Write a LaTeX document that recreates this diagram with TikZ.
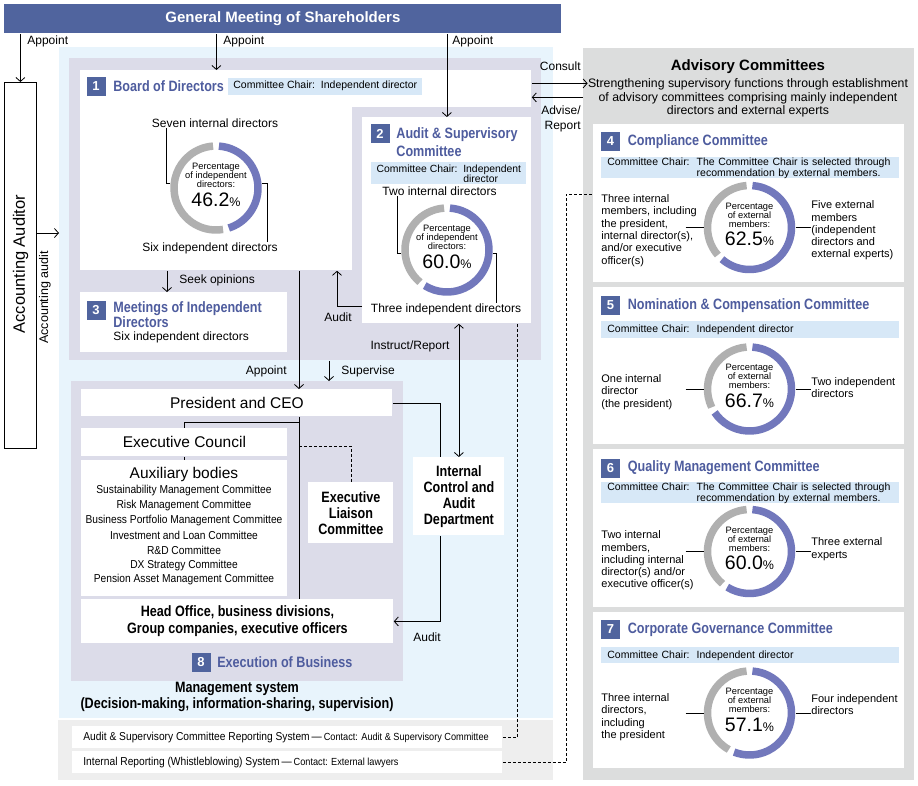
\documentclass[tikz,border=0pt]{standalone}
\usepackage{fontspec}
\setmainfont{Liberation Sans}
\newfontfamily\condfont[FakeStretch=0.84]{Liberation Sans}
\newfontfamily\narrowfont[FakeStretch=0.89]{Liberation Sans}
\usetikzlibrary{arrows.meta,positioning}

\definecolor{barblue}{RGB}{80,100,158}
\definecolor{ttlblue}{RGB}{78,92,158}
\definecolor{ringblue}{RGB}{114,120,188}
\definecolor{ringgray}{RGB}{176,176,176}
\definecolor{chairblue}{RGB}{215,232,247}
\definecolor{skyback}{RGB}{232,244,252}
\definecolor{lavback}{RGB}{220,220,233}
\definecolor{advgray}{RGB}{220,221,221}
\definecolor{sysgray}{RGB}{238,238,238}

\newcommand{\sz}[2]{\fontsize{#1}{#2}\selectfont}
% donut: name, x, y, percent, caption, value
\newcommand{\donut}[6]{%
  \coordinate (#1) at (#2,#3);
  \draw[ringblue, line width=7.5pt] ([shift={(-86:42)}]#1) arc[start angle=-86, end angle={-94+3.6*#4}, radius=42];
  \draw[ringgray, line width=7.5pt] ([shift={({-86+3.6*#4}:42)}]#1) arc[start angle={-86+3.6*#4}, end angle=266, radius=42];
  \node[font=\sz{9.3}{9}, align=center, inner sep=0pt] (#1t) at ([shift={(0,-12.5)}]#1) {#5};
  \node[inner sep=0pt] (#1v) at ([shift={(0,11.5)}]#1) {\sz{19.5}{20}#6\sz{12.5}{13}\%};
}

\begin{document}
\begin{tikzpicture}[x=1pt, y=-1pt, line width=0.8pt,
  >={Straight Barb[length=4pt,width=9pt]},
  area/.style={inner sep=0pt, anchor=north west},
  wbox/.style={fill=white, inner sep=0pt, anchor=north west},
  badge/.style={fill=barblue, text=white, font=\bfseries\sz{13}{13}, minimum width=19pt, minimum height=19pt, inner sep=0pt},
  ttl/.style={text=ttlblue, font=\condfont\bfseries\sz{15}{16}, inner sep=0pt, anchor=west},
  blk/.style={font=\condfont\bfseries\sz{15}{16}, align=center},
  chair/.style={fill=chairblue, font=\sz{10.5}{11}, inner xsep=6pt, inner ysep=0pt, anchor=north west, align=left},
  lbl/.style={font=\sz{12}{14}, inner sep=0pt},
  side/.style={font=\sz{11}{12.3}, align=left, inner sep=0pt, anchor=west},
  dsh/.style={dash pattern=on 3pt off 2pt}]
\useasboundingbox (0,0) rectangle (918,785);

% areas
\node[area, fill=skyback, minimum width=494pt, minimum height=671pt] (mgmt) at (59,47) {};
\node[area, fill=lavback, minimum width=472pt, minimum height=302pt] (sup) at (69,58) {};
\node[area, fill=lavback, minimum width=332pt, minimum height=300pt] (exe) at (71,381) {};
\node[area, fill=sysgray, minimum width=495pt, minimum height=60pt] (sys) at (58,720) {};
\node[area, fill=advgray, minimum width=331pt, minimum height=732pt] (adv) at (583,48) {};

% shareholders and accounting auditor
\node[area, fill=barblue, text=white, font=\bfseries\sz{15}{16}, minimum width=557pt, minimum height=29pt] (gm) at (4,4) {General Meeting of Shareholders};
\node[area, draw, minimum width=32pt, minimum height=366pt] (aa) at (4,82) {};
\node[rotate=90, font=\sz{16.5}{18}, inner sep=0pt] (aat) at (20.5,264) {Accounting Auditor};
\node[rotate=90, font=\sz{12.5}{13}, inner sep=0pt] (aal) at (45,297.5) {Accounting audit};
\coordinate (aud) at (59,233);
\draw[->] (gm.south -| aa.north) -- (aa.north);
\draw[->] (aa.east |- aud) -- (aud);
\node[lbl, anchor=west] (ap1) at (27,41) {Appoint};

% board of directors
\node[wbox, minimum width=272pt, minimum height=200pt] (bd) at (80,70) {};
\node[wbox, minimum width=451pt, minimum height=37pt] (bdt) at (80,70) {};
\node[badge] (b1) at (96,86.5) {1};
\node[ttl, right=7pt of b1] (t1) {Board of Directors};
\node[chair, inner xsep=5pt, minimum height=17pt, anchor=west] (ch1) at (228,86) {Committee Chair:\ \ Independent director};
\donut{d1}{216}{188}{46.2}{Percentage\\of independent\\directors:}{46.2}
\node[lbl] (l1) at (215,123) {Seven internal directors};
\node[lbl] (l2) at (210,248) {Six independent directors};
\draw ([xshift=15pt]l1.south west) |- ([shift={(-46,-5)}]d1);
\draw ([shift={(46,-5)}]d1) -| ([xshift=-11pt]l2.north east);

% audit & supervisory committee
\node[wbox, minimum width=169pt, minimum height=206pt] (ac) at (362,117) {};
\node[badge] (b2) at (380,133.5) {2};
\node[ttl, align=left, font=\condfont\bfseries\sz{15}{17.5}] (t2) at (396,142) {Audit \& Supervisory\\Committee};
\node[chair, font=\sz{10.4}{10.2}, inner xsep=4pt, minimum width=155pt, minimum height=22pt] (ch2) at (371,162) {Committee Chair:\ \ Independent\\\phantom{Committee Chair:\ \ }director};
\donut{d2}{447}{250}{60}{Percentage\\of independent\\directors:}{60.0}
\node[lbl] (l3) at (439.5,191) {Two internal directors};
\node[lbl] (l4) at (446,309) {Three independent directors};
\draw ([xshift=15pt]l3.south west) |- ([shift={(-46,3)}]d2);
\draw ([shift={(46,3)}]d2) -| ([xshift=-25pt]l4.north east);

\draw[->] (gm.south -| bd.north) -- (bd.north);
\node[lbl, anchor=west] (ap2) at (223,41) {Appoint};
\draw[->] (gm.south -| ac.north) -- (ac.north);
\node[lbl, anchor=west] (ap3) at (452,41) {Appoint};

% meetings of independent directors
\node[wbox, minimum width=207pt, minimum height=60pt] (m3) at (80,292) {};
\node[badge] (b3) at (96,310) {3};
\node[ttl, align=left, font=\condfont\bfseries\sz{15}{15}] (t3) at (113,314.5) {Meetings of Independent\\Directors};
\node[lbl, anchor=west] (m3t) at (113,337) {Six independent directors};
\draw[->] ([xshift=87pt]bd.south west) -- ([xshift=87pt]m3.north west);
\node[lbl, anchor=west] (so) at (179,280) {Seek opinions};

% advisory committees
\node[font=\bfseries\sz{15}{16}] (advt) at (748,67) {Advisory Committees};
\node[font=\sz{12.3}{13.5}, align=center, inner sep=0pt] (sub) at (748,98) {Strengthening supervisory functions through establishment\\of advisory committees comprising mainly independent\\directors and external experts};
\coordinate (cs) at ([yshift=5.5pt]bdt.east);
\coordinate (rp) at ([yshift=-8.5pt]bdt.east);
\draw[->] (cs) -- (cs -| sub.west);
\draw[->] (rp -| adv.west) -- (rp);
\node[lbl, anchor=east] (cst) at (581,66) {Consult};
\node[lbl, anchor=east, align=right, font=\sz{12}{15}] (rpt) at (581,118.5) {Advise/\\Report};

% 4 compliance
\node[wbox, minimum width=311pt, minimum height=158pt] (c4) at (593,124) {};
\node[badge] (b4) at (610.5,141.5) {4};
\node[ttl, right=7pt of b4] (t4) {Compliance Committee};
\node[chair, text width=286pt, minimum height=21pt] (ch4) at (601,157) {Committee Chair:\ \ The Committee Chair is selected through\\\phantom{Committee Chair:\ \ }recommendation by external members.};
\donut{d4}{749.5}{227.5}{62.5}{Percentage\\of external\\members:}{62.5}
\node[side] (s4l) at (601,230.5) {Three internal\\members, including\\the president,\\internal director(s),\\and/or executive\\officer(s)};
\node[side] (s4r) at (811,230.5) {Five external\\members\\(independent\\directors and\\external experts)};
\draw ([xshift=-64pt]d4) -- ([xshift=-46pt]d4);
\draw ([xshift=46pt]d4) -- ([xshift=61pt]d4);

% 5 nomination & compensation
\node[wbox, minimum width=311pt, minimum height=157pt] (c5) at (593,287) {};
\node[badge] (b5) at (610.5,305.5) {5};
\node[ttl, right=7pt of b5] (t5) {Nomination \& Compensation Committee};
\node[chair, text width=286pt, minimum height=17pt] (ch5) at (601,321) {Committee Chair:\ \ Independent director};
\donut{d5}{749.5}{389}{66.7}{Percentage\\of external\\members:}{66.7}
\node[side] (s5l) at (601,392) {One internal\\director\\(the president)};
\node[side] (s5r) at (811,387.5) {Two independent\\directors};
\draw ([xshift=-64pt]d5) -- ([xshift=-46pt]d5);
\draw ([xshift=46pt]d5) -- ([xshift=61pt]d5);

% 6 quality management
\node[wbox, minimum width=311pt, minimum height=158pt] (c6) at (593,449) {};
\node[badge] (b6) at (610.5,468) {6};
\node[ttl, right=7pt of b6] (t6) {Quality Management Committee};
\node[chair, text width=286pt, minimum height=21pt] (ch6) at (601,482) {Committee Chair:\ \ The Committee Chair is selected through\\\phantom{Committee Chair:\ \ }recommendation by external members.};
\donut{d6}{749.5}{551.5}{60}{Percentage\\of external\\members:}{60.0}
\node[side] (s6l) at (601,560.5) {Two internal\\members,\\including internal\\director(s) and/or\\executive officer(s)};
\node[side] (s6r) at (811,549) {Three external\\experts};
\draw ([xshift=-64pt]d6) -- ([xshift=-46pt]d6);
\draw ([xshift=46pt]d6) -- ([xshift=61pt]d6);

% 7 corporate governance
\node[wbox, minimum width=311pt, minimum height=156pt] (c7) at (593,612) {};
\node[badge] (b7) at (610.5,629.5) {7};
\node[ttl, right=7pt of b7] (t7) {Corporate Governance Committee};
\node[chair, text width=286pt, minimum height=16pt] (ch7) at (601,647) {Committee Chair:\ \ Independent director};
\donut{d7}{749.5}{713}{57.1}{Percentage\\of external\\members:}{57.1}
\node[side] (s7l) at (601,717) {Three internal\\directors,\\including\\the president};
\node[side] (s7r) at (811,704.5) {Four independent\\directors};
\draw ([xshift=-64pt]d7) -- ([xshift=-46pt]d7);
\draw ([xshift=46pt]d7) -- ([xshift=61pt]d7);

% execution of business
\node[wbox, minimum width=311pt, minimum height=27pt, font=\sz{15.5}{16}] (pc) at (81,389) {President and CEO};
\node[wbox, minimum width=206pt, minimum height=28pt, font=\sz{15.5}{16}] (ec) at (81,428) {Executive Council};
\node[wbox, minimum width=206pt, minimum height=136pt] (ax) at (81,460) {};
\node[font=\sz{15.5}{16}] (axt) at (184,474) {Auxiliary bodies};
\foreach \t [count=\i] in {Sustainability Management Committee, Risk Management Committee, Business Portfolio Management Committee, Investment and Loan Committee, R\&D Committee, DX Strategy Committee, Pension Asset Management Committee}
  \node[font=\narrowfont\sz{11.5}{12}, inner sep=0pt] (ax\i) at (184,{475.8+14.88*\i}) {\t};
\node[wbox, blk, minimum width=85pt, minimum height=61pt] (el) at (308,482) {Executive\\Liaison\\Committee};
\node[wbox, blk, minimum width=91pt, minimum height=78pt] (ic) at (413,457) {Internal\\Control and\\Audit\\Department};
\node[wbox, blk, font=\condfont\bfseries\sz{15}{17}, minimum width=312pt, minimum height=44pt] (ho) at (81,599) {Head Office, business divisions,\\Group companies, executive officers};
\node[badge] (b8) at (201,662) {8};
\node[ttl, right=6pt of b8] (t8) {Execution of Business};
\node[blk, font=\condfont\bfseries\sz{15}{16}] (ms) at (237,697) {Management system\\(Decision-making, information-sharing, supervision)};

% connectors in the management system
\coordinate (ap) at (299,0);
\coordinate (sv) at (329,0);
\coordinate (au) at (337,306);
\coordinate (ia) at (440,0);
\coordinate (br) at (299,422);
\coordinate (dl) at (299,446);
\draw[->] (bd.south -| ap) -- (pc.north -| ap);
\node[lbl, anchor=east] (ap4) at (287,371) {Appoint};
\draw[->] (sup.south -| sv) -- (exe.north -| sv);
\node[lbl, anchor=west] (svt) at (341,371) {Supervise};
\draw[->] (ac.west |- au) -| (bd.south -| au);
\node[lbl] (aut) at (338,317) {Audit};
\draw[<->] (ac.south -| ic.north) -- (ic.north);
\node[lbl] (irt) at (410,346) {Instruct/Report};
\draw (pc.south -| ap) -- (ho.north -| ap);
\draw (br) -| (ec.north);
\draw (ec.south) -- (ax.north);
\draw[dsh] (dl) -| (el.north);
\draw (pc.east) -| (ic.north -| ia);
\draw[->] (ic.south -| ia) |- (ho.east);
\node[lbl] (aut2) at (427,637) {Audit};

% reporting systems
\node[wbox, minimum width=430pt, minimum height=22pt] (r1) at (72,726) {};
\node[wbox, minimum width=430pt, minimum height=22pt] (r2) at (72,751) {};
\node[anchor=west, font=\narrowfont\sz{11.5}{12}, inner sep=0pt] (r1t) at ([xshift=11pt]r1.west) {Audit \& Supervisory Committee Reporting System\,—\,{\sz{10.3}{11}Contact: Audit \& Supervisory Committee}};
\node[anchor=west, font=\narrowfont\sz{11.5}{12}, inner sep=0pt] (r2t) at ([xshift=11pt]r2.west) {Internal Reporting (Whistleblowing) System\,—\,{\sz{10.3}{11}Contact: External lawyers}};
\coordinate (dv) at (517,0);
\coordinate (dx) at (566,194);
\draw[dsh] (ac.south -| dv) |- (r1.east);
\draw[dsh] (r2.east) -| (dx) -- (dx -| c4.west);
\end{tikzpicture}
\end{document}
